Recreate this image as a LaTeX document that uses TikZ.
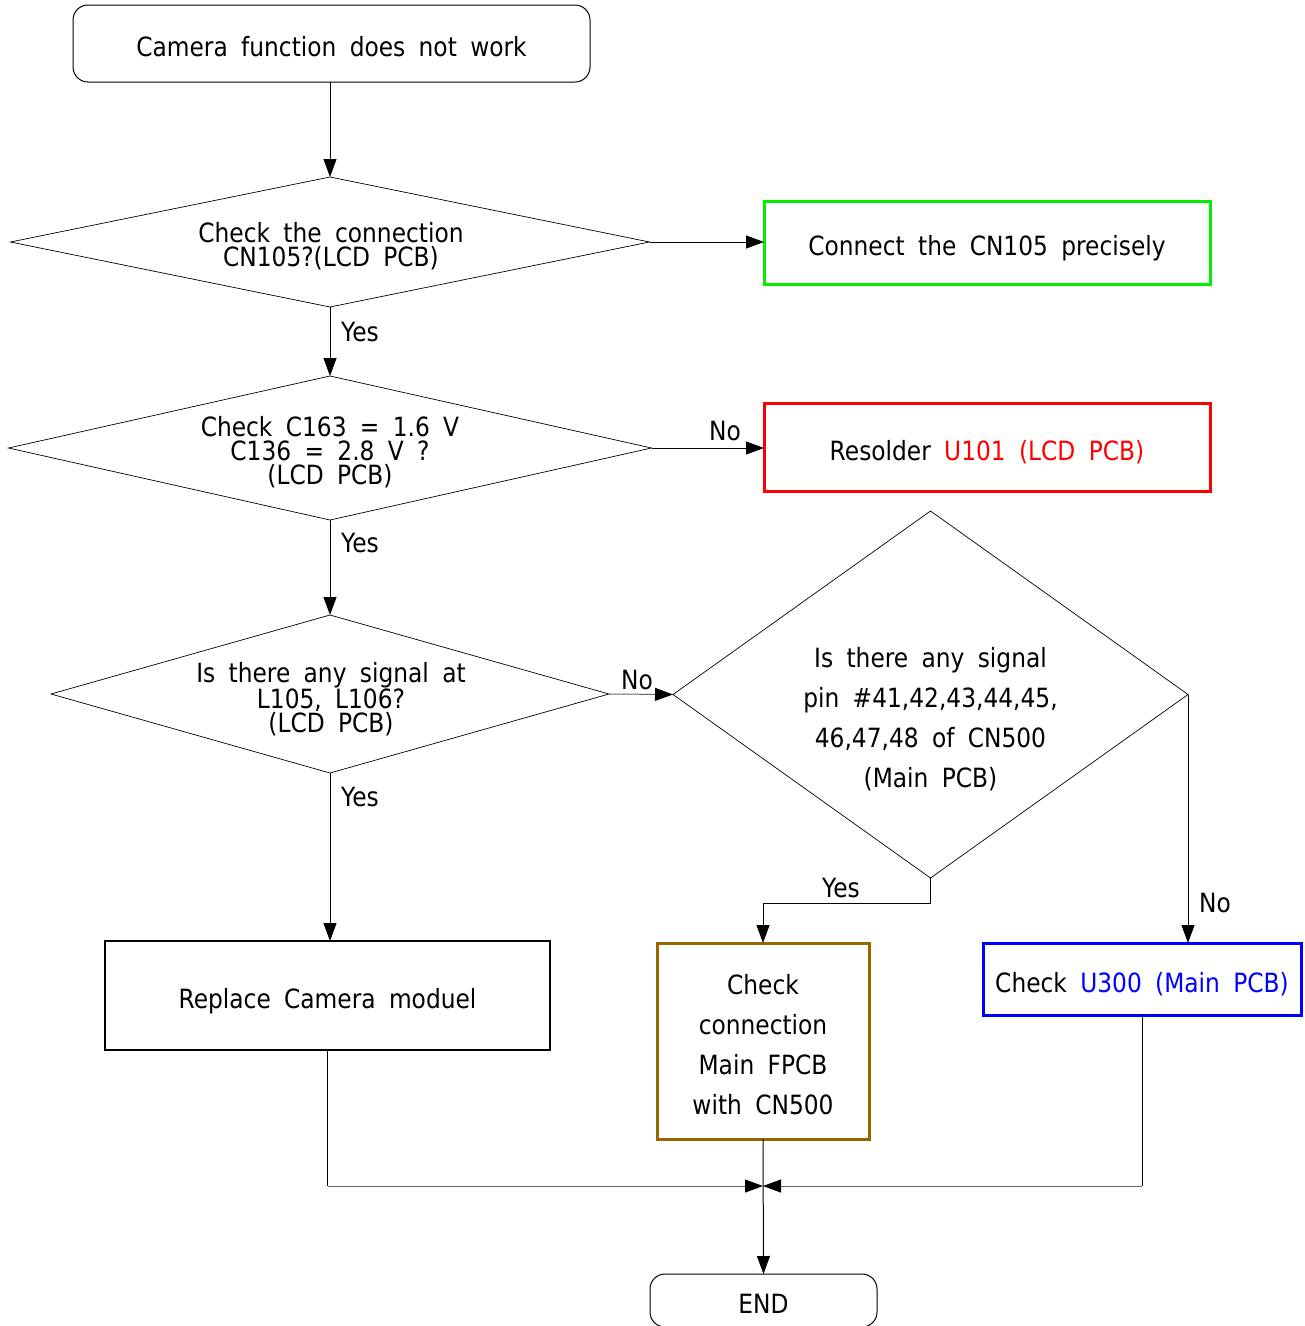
\documentclass[tikz,border=0pt]{standalone}
\usepackage{fontspec}
\setmainfont{DejaVu Sans}[FakeStretch=0.88,WordSpace=1.8]
\usetikzlibrary{shapes.geometric,arrows.meta}
\definecolor{cgreen}{RGB}{0,240,0}
\definecolor{cred}{RGB}{255,0,0}
\definecolor{cblue}{RGB}{0,0,255}
\definecolor{cbrown}{RGB}{153,102,0}
\begin{document}
\begin{tikzpicture}[x=1pt,y=-1pt,
  font=\fontsize{26.5}{24}\selectfont,
  box/.style={draw, rectangle, inner sep=0pt, outer sep=0pt, text height=30pt, text depth=4pt},
  rbox/.style={box, rounded corners=15pt, line width=1pt},
  dia/.style={draw, diamond, inner sep=0pt, outer sep=0pt, line width=0.7pt},
  arr/.style={-{Triangle[length=18pt,width=13pt,color=black]}, line width=1pt},
  hline/.style={draw=black!60, line width=1pt},
  lbl/.style={inner sep=0pt},
  wide/.style={font=\fontsize{26.5}{40}\selectfont, align=center, inner sep=0pt}]
\useasboundingbox (0,0) rectangle (1305,1326);

% start
\node[rbox, minimum width=517pt, minimum height=77pt] (start) at (331.5,43.5) {Camera function does not work};

% decision 1
\node[dia, minimum width=639pt, minimum height=130pt] (d1) at (330,242) {};
\node[lbl, align=center] (t1) at (331,246.5) {Check the connection\\CN105?(LCD PCB)};
\node[box, draw=cgreen, line width=3pt, minimum width=446pt, minimum height=83pt] (g) at (987,242.5) {Connect the CN105 precisely};

% decision 2
\node[dia, minimum width=643pt, minimum height=144pt] (d2) at (330,448) {};
\node[lbl, align=center] (t2) at (330,452) {Check C163 = 1.6 V\\C136 = 2.8 V ?\\(LCD PCB)};
\node[box, draw=cred, line width=3pt, minimum width=446pt, minimum height=88pt] (r) at (987,447) {Resolder \textcolor{cred}{U101 (LCD PCB)}};

% decision 3
\node[dia, minimum width=558pt, minimum height=158pt] (d3) at (330,694) {};
\node[lbl, align=center] (t3) at (331,699) {Is there any signal at\\L105, L106?\\(LCD PCB)};

% decision 4
\node[dia, minimum width=515pt, minimum height=367pt] (d4) at (930.5,694.5) {};
\node[wide] (t4) at (930.5,719) {Is there any signal\\pin \#41,42,43,44,45,\\46,47,48 of CN500\\(Main PCB)};

% actions
\node[box, line width=1.5pt, minimum width=445pt, minimum height=109pt] (rep) at (327.5,995.5) {Replace Camera moduel};
\node[draw=cbrown, line width=3pt, inner sep=0pt, outer sep=0pt, minimum width=212pt, minimum height=196pt] (br) at (763,1041) {};
\node[wide] (t5) at (763,1045) {Check\\connection\\Main FPCB\\with CN500};
\node[box, draw=cblue, line width=3pt, minimum width=318pt, minimum height=72pt] (bl) at (1142,979) {Check \textcolor{cblue}{U300 (Main PCB)}};

% end
\node[rbox, minimum width=227pt, minimum height=53pt] (end) at (763.5,1300.5) {END};
\coordinate (m) at (763,1186);

% connectors
\draw[arr] (d1.north |- start.south) -- (d1.north);
\draw[arr] (d1.east) -- (d1.east -| g.west);
\draw[arr] (d1.south) -- (d2.north);
\draw[arr] (d2.east) -- (d2.east -| r.west);
\draw[arr] (d2.south) -- (d3.north);
\draw[arr, hline] (d3.east) -- (d4.west);
\draw[arr] (d3.south) -- (d3.south |- rep.north);
\draw[arr] (d4.south) -- ++(0,25) -| (br.north);
\draw[arr] (d4.east) -- (d4.east |- bl.north);
\draw[arr] (br.south) -- (end.north);
\draw[line width=1pt] (rep.south) -- (rep.south |- m);
\draw[arr, hline] (rep.south |- m) -- (m);
\draw[line width=1pt] (bl.south) -- (bl.south |- m);
\draw[arr, hline] (bl.south |- m) -- (m);

% labels
\node[lbl] (y1) at (360,332) {Yes};
\node[lbl] (n2) at (725,431) {No};
\node[lbl] (y2) at (360,543) {Yes};
\node[lbl] (n3) at (637,680) {No};
\node[lbl] (y3) at (360,797) {Yes};
\node[lbl] (y4) at (841,888) {Yes};
\node[lbl] (n4) at (1215,903) {No};
\end{tikzpicture}
\end{document}
